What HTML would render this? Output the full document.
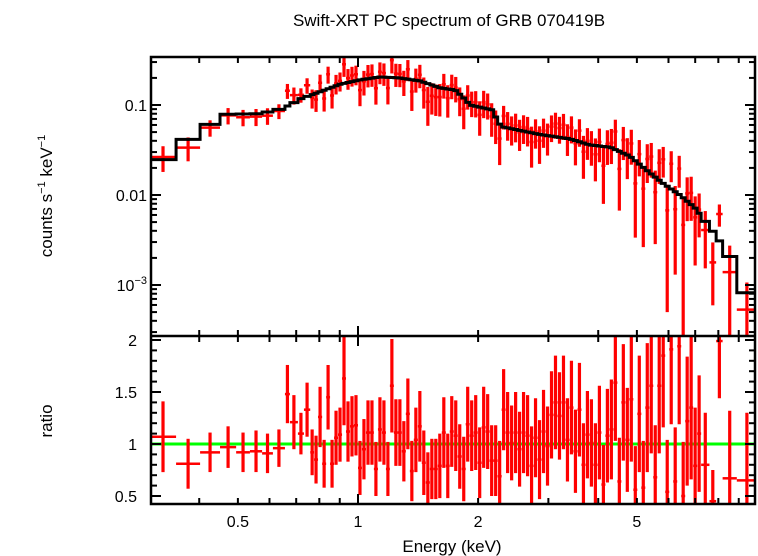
<!DOCTYPE html>
<html><head><meta charset="utf-8">
<style>
html,body{margin:0;padding:0;background:#fff;}
svg{display:block;font-family:"Liberation Sans",Arial,sans-serif;}
</style></head>
<body>
<svg id="chart" width="758" height="556" viewBox="0 0 758 556">
<text x="449" y="26" font-size="17" text-anchor="middle">Swift-XRT PC spectrum of GRB 070419B</text>
<g id="topPanel"></g>
<g id="botPanel"></g>
<g id="axesG"></g>
<text x="452" y="552" font-size="17" text-anchor="middle">Energy (keV)</text>
<text transform="translate(52,196) rotate(-90)" font-size="17" text-anchor="middle">counts s<tspan font-size="11" dy="-7">−1</tspan><tspan dy="7"> keV</tspan><tspan font-size="11" dy="-7">−1</tspan></text>
<text transform="translate(52,421) rotate(-90)" font-size="17" text-anchor="middle">ratio</text>
</svg>
<script>
// bin edges (keV)
const binEdges = [0.301,0.350,0.402,0.451,0.495,0.536,0.575,0.612,0.656,0.675,0.707,0.732,
0.759,0.776,0.794,0.813,0.832,0.851,0.871,0.891,0.912,0.933,0.955,0.977,1.000,1.023,1.047,1.072,1.096,1.122,1.148,1.175,1.202,1.230,1.259,1.288,1.318,1.349,1.380,1.413,1.445,1.479,1.514,1.549,1.585,1.622,1.660,1.698,1.738,1.778,1.820,1.862,1.905,1.950,1.995,2.042,2.089,2.138,2.188,2.239,2.291,2.344,2.399,2.455,2.512,2.570,2.630,2.692,2.754,2.818,2.884,2.951,3.020,3.090,3.162,3.236,3.311,3.388,3.467,3.548,3.631,3.715,3.802,3.890,3.981,4.074,4.169,4.266,4.365,4.467,4.571,4.677,4.786,4.898,5.012,5.129,5.248,5.370,5.495,5.623,5.754,5.888,6.026,6.166,6.310,6.457,6.607,6.761,6.918,7.079,7.244,
7.60,7.90,8.20,8.90,10.0];
// data/model ratio per bin
const ratioValues = [1.07,0.81,0.92,0.97,0.92,0.93,0.91,0.96,1.48,1.21,1.10,1.33,
0.92,0.85,1.26,0.81,1.45,0.81,1.06,1.09,1.63,1.12,1.17,1.18,0.77,0.95,1.11,1.11,0.76,1.14,1.11,0.76,1.56,1.11,1.11,0.93,1.29,0.74,1.04,1.17,0.82,0.63,0.76,0.76,0.79,1.11,0.79,1.12,1.08,0.88,0.76,1.19,1.08,1.11,0.82,1.16,1.12,0.84,0.84,0.69,1.33,1.11,1.01,1.11,0.95,1.11,1.08,
0.79,1.06,0.85,1.12,0.98,1.28,1.40,1.27,1.40,1.04,1.35,0.93,1.33,0.80,1.09,1.01,0.80,1.11,0.61,1.08,1.14,1.59,0.64,1.40,1.04,1.43,0.56,1.29,0.58,1.35,1.56,0.68,1.56,1.85,0.54,1.91,0.64,1.94,0.50,1.22,1.35,0.79,1.10,
0.80,0.45,1.99,0.67,0.65];
// 1-sigma error on ratio per bin
const ratioErrors = [0.34,0.24,0.19,0.20,0.19,0.20,0.19,0.18,0.28,0.26,0.20,0.26,
0.22,0.23,0.29,0.23,0.31,0.23,0.26,0.26,0.45,0.29,0.29,0.29,0.26,0.29,0.31,0.31,0.26,0.31,0.31,0.26,0.45,0.32,0.32,0.29,0.34,0.29,0.31,0.34,0.31,0.29,0.29,0.29,0.31,0.34,0.31,0.34,0.34,0.31,0.31,0.36,0.34,0.36,0.34,0.39,0.36,0.34,0.34,0.34,0.39,0.39,0.36,0.39,0.36,0.39,0.39,
0.38,0.38,0.38,0.40,0.38,0.42,0.45,0.42,0.45,0.40,0.45,0.40,0.45,0.40,0.42,0.42,0.40,0.45,0.38,0.45,0.48,0.56,0.42,0.56,0.50,0.60,0.42,0.56,0.45,0.62,0.65,0.50,0.65,0.69,0.50,0.72,0.52,0.75,0.52,0.62,0.69,0.56,0.56,
0.50,0.30,0.55,0.65,0.65];
// model knots (keV, counts/s/keV)
const modelE = [0.301,0.325,0.375,0.426,0.472,0.568,0.638,0.675,0.716,0.803,0.901,1.01,1.135,1.27,1.43,1.605,1.75,1.83,1.91,2.18,2.24,2.31,2.86,3.40,3.81,4.28,4.80,5.39,5.88,6.41,6.99,7.42,7.84,8.30,8.81,9.37,10.0];
const modelV = [0.0247,0.0247,0.0415,0.061,0.079,0.080,0.090,0.100,0.117,0.140,0.170,0.190,0.205,0.200,0.185,0.155,0.147,0.123,0.100,0.088,0.064,0.057,0.047,0.042,0.036,0.034,0.027,0.0176,0.013,0.0100,0.0072,0.0051,0.0037,0.0025,0.0017,0.00082,0.00082];
const yTopTicks = ["0.1","0.01"];
const ratioTicks = [2,1.5,1,0.5];
const ratioTickLabels = ["2","1.5","1","0.5"];
const xTickVals = [0.5,1,2,5];
const xTickLabels = ["0.5","1","2","5"];

const L=151,R=755,T=57,M=336,B=504;
const xS = e => 358 + 399*Math.log10(e);
const yTop = v => 105 - 90*(Math.log10(v)+1);
const yBot = r => 444 - 104*(r-1);
const NS="http://www.w3.org/2000/svg";
function mk(tag, attrs, parent){const el=document.createElementNS(NS,tag);for(const k in attrs)el.setAttribute(k,attrs[k]);parent.appendChild(el);return el;}
function model(e){
  const le=Math.log10(e);
  for(let i=0;i<modelE.length-1;i++){
    const a=Math.log10(modelE[i]),b=Math.log10(modelE[i+1]);
    if(le<=b||i===modelE.length-2){const t=Math.max(0,Math.min(1,(le-a)/(b-a)));return Math.pow(10,Math.log10(modelV[i])+t*(Math.log10(modelV[i+1])-Math.log10(modelV[i])));}
  }
}
const topPanel=document.getElementById('topPanel'), botPanel=document.getElementById('botPanel'), axesG=document.getElementById('axesG');
const ctp=mk('clipPath',{id:'ct'},topPanel);mk('rect',{x:L,y:T,width:R-L,height:M-T},ctp);
const cbp=mk('clipPath',{id:'cb'},botPanel);mk('rect',{x:L,y:M,width:R-L,height:B-M},cbp);
const tg=mk('g',{'clip-path':'url(#ct)'},topPanel), bg=mk('g',{'clip-path':'url(#cb)'},botPanel);

const gl=mk('line',{x1:L,x2:R,y1:yBot(1),y2:yBot(1),stroke:'#00ff00','stroke-width':3},bg);



const nb=Math.min(ratioValues.length, ratioErrors.length, binEdges.length-1);
let path='';
for(let i=0;i<nb;i++){
  const e0=binEdges[i],e1=binEdges[i+1],ec=Math.sqrt(e0*e1);
  const x0=xS(e0),x1=xS(e1),xc=xS(ec);
  const m=model(ec), r=ratioValues[i], er=ratioErrors[i];
  path += (i===0?'M':'L')+x0+','+yTop(m)+' L'+x1+','+yTop(m)+' ';
  const c=m*r, lo=Math.max(m*(r-er),1e-5), hi=m*(r+er);
  const g1=mk('g',{stroke:'#ff0000','stroke-width':2.5},tg);
  
  
  mk('line',{x1:x0,x2:x1,y1:yTop(c),y2:yTop(c)},g1);
  mk('line',{x1:xc,x2:xc,y1:yTop(hi),y2:yTop(lo),'stroke-width':3.2},g1);
  const g2=mk('g',{stroke:'#ff0000','stroke-width':2.5},bg);
  
  
  mk('line',{x1:x0,x2:x1,y1:yBot(r),y2:yBot(r)},g2);
  mk('line',{x1:xc,x2:xc,y1:yBot(r+er),y2:yBot(r-er),'stroke-width':3.2},g2);
}
const mp=mk('path',{d:path,fill:'none',stroke:'#000','stroke-width':3},tg);



const fr=mk('rect',{x:L,y:T,width:R-L,height:B-T,fill:'none',stroke:'#000','stroke-width':2.5},axesG);


mk('line',{x1:L,x2:R,y1:M,y2:M,stroke:'#000','stroke-width':2.5},axesG);

const tk=mk('g',{stroke:'#000','stroke-width':2},axesG);
for(let d=-1;d<=1;d++){for(let k=1;k<=9;k++){
  const e=k*Math.pow(10,d); const x=xS(e); if(x<L||x>R) continue;
  const len=(k===1)?10:6;
  [T,M,B].forEach(y=>{ if(y!==T) mk('line',{x1:x,x2:x,y1:y,y2:y-len},tk); if(y!==B) mk('line',{x1:x,x2:x,y1:y,y2:y+len},tk);});
}}
xTickVals.forEach((v,i)=>{const t=mk('text',{x:xS(v),y:527,'font-size':16,'text-anchor':'middle'},axesG);t.textContent=xTickLabels[i];

});

for(let d=-4;d<=-1;d++){for(let k=1;k<=9;k++){
  const v=k*Math.pow(10,d); const y=yTop(v); if(y<T||y>M) continue;
  const len=(k===1)?10:6;
  mk('line',{x1:L,x2:L+len,y1:y,y2:y},tk); mk('line',{x1:R,x2:R-len,y1:y,y2:y},tk);
}}
yTopTicks.forEach((s,i)=>{const t=mk('text',{x:147,y:yTop(Math.pow(10,-1-i))+6,'font-size':16,'text-anchor':'end'},axesG);t.textContent=s;

});
const t3=mk('text',{x:147,y:yTop(0.001)+6,'font-size':16,'text-anchor':'end'},axesG);


t3.appendChild(document.createTextNode('10'));
const sup=mk('tspan',{'font-size':11,dy:-7},t3); sup.textContent='−3';

for(let j=5;j<=20;j++){const rv=j/10; const y=yBot(rv); if(y<M||y>B) continue;
  const len=(j%5===0)?10:6;
  mk('line',{x1:L,x2:L+len,y1:y,y2:y},tk); mk('line',{x1:R,x2:R-len,y1:y,y2:y},tk);}
ratioTicks.forEach((v,i)=>{const t=mk('text',{x:137,y:yBot(v)+6,'font-size':16,'text-anchor':'end'},axesG);t.textContent=ratioTickLabels[i];

});
</script>
</body></html>
